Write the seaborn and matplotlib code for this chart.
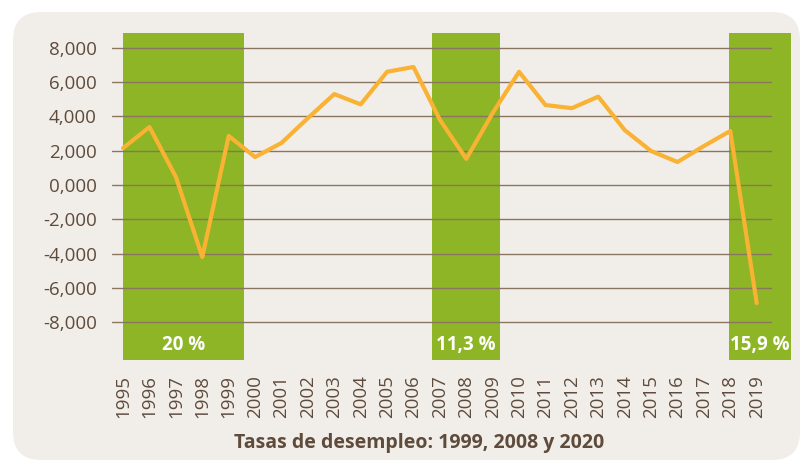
import matplotlib
matplotlib.use("Agg")
import matplotlib.pyplot as plt
from matplotlib.patches import FancyBboxPatch
import seaborn as sns
import pandas as pd

# ---------------------------------------------------------------
# data
# ---------------------------------------------------------------
years = list(range(1995, 2020))
values = [2150, 3380, 470, -4200, 2860, 1630, 2450, 3900, 5300, 4700,
          6600, 6880, 3800, 1520, 4200, 6600, 4660, 4480, 5150, 3200,
          1980, 1340, 2270, 3150, -6880]
y_ticks = [8000, 6000, 4000, 2000, 0, -2000, -4000, -6000, -8000]
y_tick_labels = ["8,000", "6,000", "4,000", "2,000", "0,000",
                 "-2,000", "-4,000", "-6,000", "-8,000"]
# crisis periods (start, end) and unemployment rate labels
band_starts = [1995.0, 2006.7, 2017.95]
band_ends = [1999.58, 2009.28, 2020.3]
band_labels = ["20 %", "11,3 %", "15,9 %"]
title = "Tasas de desempleo: 1999, 2008 y 2020"

df = pd.DataFrame({"year": years, "value": values})

BG = "#f1eee9"
GREEN = "#8db525"
ORANGE = "#f9b233"
GRID = "#8a7563"
TEXT = "#5e4b3c"

sns.set_style("white")
plt.rcParams["font.family"] = ["Open Sans", "DejaVu Sans"]

fig = plt.figure(figsize=(8.02, 4.61), dpi=100)
fig.patch.set_facecolor("white")

# rounded beige panel behind everything
panel = FancyBboxPatch((13 / 802, 1 / 461), (800 - 13) / 802, (460 - 12) / 461,
                       boxstyle="round,pad=0,rounding_size=0.035",
                       transform=fig.transFigure, facecolor=BG,
                       edgecolor="none", zorder=-10, mutation_aspect=802 / 461)
fig.add_artist(panel)

ax = fig.add_axes([112 / 802, 1 - 360 / 461, (772 - 112) / 802, (360 - 33) / 461])
ax.set_facecolor("none")

ymin, ymax = -10200, 8860
for s, e, lab in zip(band_starts, band_ends, band_labels):
    ax.fill_between([s, e], ymin, ymax, color=GREEN, lw=0, zorder=1, clip_on=False)
    ax.text((s + e) / 2, -9350, lab, color="white", fontsize=13.5,
            fontweight="bold", ha="center", va="center", zorder=5)

for t in y_ticks:
    ax.axhline(t, color=GRID, lw=1, zorder=2)

sns.lineplot(data=df, x="year", y="value", color=ORANGE, lw=3,
             ax=ax, zorder=3)

ax.set_xlim(1994.58, 2019.58)
ax.set_ylim(ymin, ymax)
ax.set_yticks(y_ticks)
ax.set_yticklabels(y_tick_labels)
ax.set_xticks(years)
ax.set_xticklabels([str(y) for y in years], rotation=90)
ax.tick_params(axis="y", length=0, pad=11, labelsize=13.5, labelcolor=TEXT)
ax.tick_params(axis="x", length=0, pad=11, labelsize=13.5, labelcolor=TEXT)
ax.set_xlabel("")
ax.set_ylabel("")
for sp in ax.spines.values():
    sp.set_visible(False)

fig.text(0.522, 1 - 443 / 461, title, ha="center", va="center",
         fontsize=14, fontweight="bold", color=TEXT)

fig.savefig("out.png", dpi=100, facecolor=fig.get_facecolor())
